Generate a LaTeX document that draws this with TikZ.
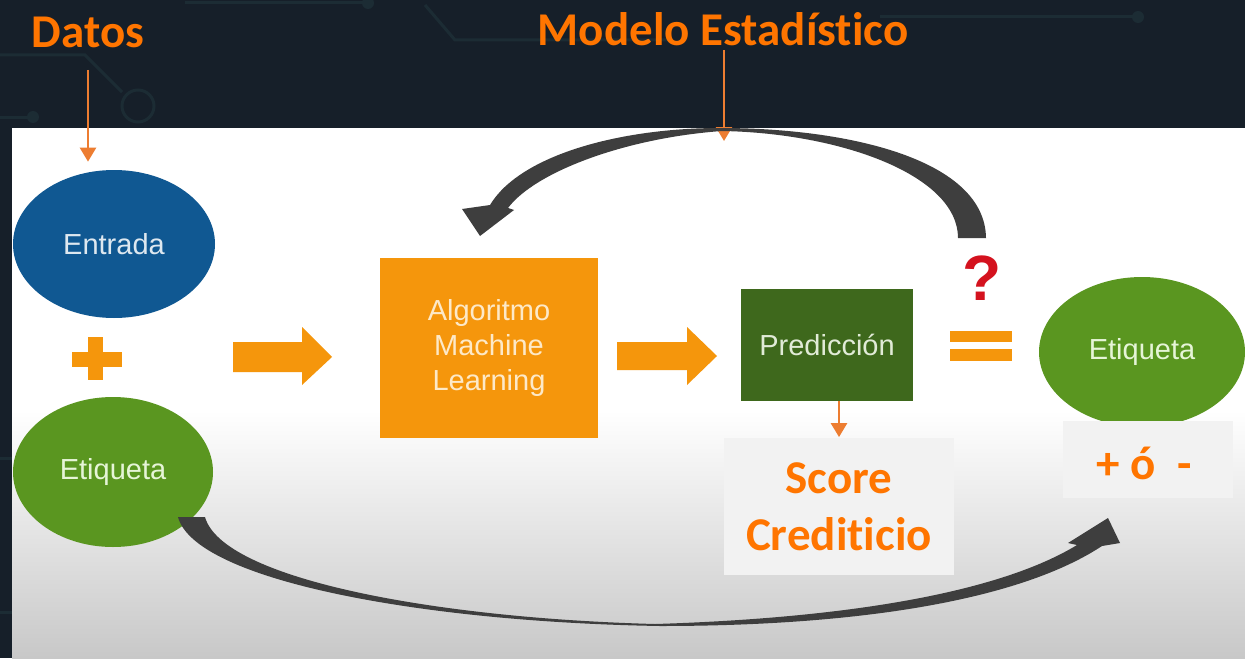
\documentclass[tikz,border=0pt]{standalone}
\usepackage{fontspec}
\newfontfamily\calibf[Ligatures=NoCommon]{Carlito}
\newfontfamily\arialf{Liberation Sans}
\usetikzlibrary{arrows.meta,shapes.geometric}
\definecolor{bgdark}{RGB}{22,31,41}
\definecolor{circuit}{RGB}{28,44,52}
\definecolor{entblue}{RGB}{16,88,146}
\definecolor{etigreen}{RGB}{90,150,32}
\definecolor{predgreen}{RGB}{62,104,28}
\definecolor{boxorange}{RGB}{245,150,12}
\definecolor{txtorange}{RGB}{255,117,0}
\definecolor{arroworange}{RGB}{237,125,49}
\definecolor{arrowgray}{RGB}{62,62,62}
\definecolor{qred}{RGB}{212,18,30}
\definecolor{lightbox}{RGB}{242,242,242}
\definecolor{panelgray}{RGB}{200,200,200}
\begin{document}
\begin{tikzpicture}[x=0.5pt,y=-0.5pt,
  orangelabel/.style={font=\calibf\bfseries\fontsize{23.5}{28.5}\selectfont, text=txtorange, inner sep=0pt, align=center},
  thinarrow/.style={draw=arroworange, line width=1.3pt, -{Triangle[width=8pt,length=7pt]}},
  innertext/.style={font=\arialf\fontsize{14.5}{17.5}\selectfont, align=center},
  oval/.style={ellipse, inner sep=0pt, innertext},
  blockarrow/.style={fill=boxorange},
  circ/.style={draw=circuit, line width=1.5pt}
]
\useasboundingbox (0,0) rectangle (1245,658);
% background
\fill[bgdark] (0,0) rectangle (1245,658);
% faint circuit lines
\draw[circ] (0,55) -- (85,55) -- (122,92);
\draw[circ] (138,106) circle[radius=8pt];
\draw[circ] (0,117) -- (30,117);
\fill[circuit] (33,117) circle[radius=3pt];
\draw[circ] (185,3) -- (365,3);
\fill[circuit] (368,3) circle[radius=3pt];
\draw[circ] (425,5) -- (455,40) -- (670,40);
\draw[circ] (880,17) -- (1135,17);
\fill[circuit] (1138,17) circle[radius=3pt];
\draw[circ] (0,458) -- (12,458);
\draw[circ] (0,612) -- (12,612);
% panel
\fill[white] (12,128) rectangle (1245,410);
\shade[top color=white, bottom color=panelgray] (12,410) rectangle (1245,658);

% titles
\node[orangelabel] (datos) at (88,32) {Datos};
\node[orangelabel] (modelo) at (723,29) {Modelo Estadístico};

% ellipses
\node[oval, fill=entblue, text={rgb,255:red,222;green,232;blue,240}, minimum width=101pt, minimum height=74pt] (entrada) at (114,244) {Entrada};
\node[oval, fill=etigreen, text={rgb,255:red,230;green,245;blue,215}, minimum width=100pt, minimum height=75pt] (etiq1) at (113,472) {Etiqueta};
\node[oval, fill=etigreen, text={rgb,255:red,230;green,245;blue,215}, minimum width=103pt, minimum height=75pt] (etiq2) at (1142,352) {Etiqueta};

% plus
\fill[boxorange] (72,352) rectangle (122,367);
\fill[boxorange] (88,337) rectangle (103,380);

% block arrows
\fill[blockarrow] (233,342) -- (302,342) -- (302,327) -- (332,357) -- (302,385) -- (302,372) -- (233,372) -- cycle;
\fill[blockarrow] (617,342) -- (687,342) -- (687,327) -- (717,356) -- (687,385) -- (687,370) -- (617,370) -- cycle;

% boxes
\node[fill=boxorange, minimum width=109pt, minimum height=90pt, innertext, text={rgb,255:red,253;green,233;blue,200}, inner sep=0pt] (alg) at (489,348) {Algoritmo\\Machine\\Learning};
\node[fill=predgreen, minimum width=86pt, minimum height=56pt, innertext, text={rgb,255:red,225;green,235;blue,215}, inner sep=0pt] (pred) at (827,345) {Predicción};

% equal and question
\fill[boxorange] (950,331) rectangle (1012,342);
\fill[boxorange] (950,349) rectangle (1012,361);
\node[font=\arialf\bfseries\fontsize{32}{32}\selectfont, text=qred, inner sep=0pt] (q) at (982,278) {?};

% gray boxes
\node[fill=lightbox, minimum width=115pt, minimum height=68.5pt, inner sep=0pt] (score) at (839,506) {};
\node[orangelabel] (scoretxt) at (839,507) {Score\\Crediticio};
\node[fill=lightbox, minimum width=85pt, minimum height=38.5pt, inner sep=0pt] (signo) at (1148,459) {};
\node[orangelabel] (signotxt) at (1144,463) {+ ó~~-};

% thin orange arrows
\draw[thinarrow, shorten <=11pt, shorten >=4pt] (datos.south) -- (datos.south |- entrada.north);
\coordinate (arctop) at (724,141);
\draw[thinarrow, shorten <=2pt] (modelo.south -| arctop) -- (arctop);
\draw[thinarrow] (score.north |- pred.south) -- (score.north);

% top curved arrow
\fill[arrowgray] (986,238) .. controls (985,160) and (850,128) .. (720,128)
  .. controls (620,128) and (520,155) .. (490,205)
  -- (462,209) -- (480,236) -- (514,210) -- (508,208)
  .. controls (535,172) and (625,138) .. (722,131)
  .. controls (840,133) and (958,175) .. (958,238) -- cycle;

% bottom curved arrow
\fill[arrowgray] (205,517) .. controls (222,578) and (430,618) .. (655,624)
  .. controls (850,618) and (1000,592) .. (1077,545)
  -- (1068,543) -- (1108,518) -- (1120,543) -- (1102,546)
  .. controls (1020,600) and (860,626) .. (660,626)
  .. controls (420,622) and (195,580) .. (178,517) -- cycle;
\end{tikzpicture}
\end{document}
